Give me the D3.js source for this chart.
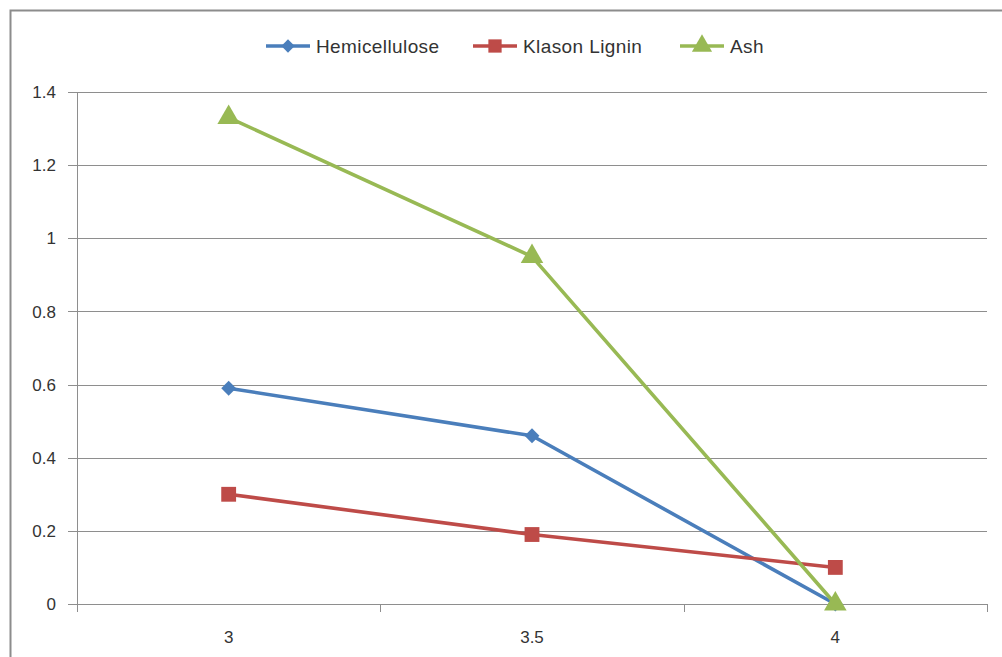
<!DOCTYPE html>
<html><head><meta charset="utf-8">
<script src="https://cdn.jsdelivr.net/npm/d3@7"></script>
<style>body{margin:0;background:#fff}svg{display:block}text{font-family:"Liberation Sans",Arial,sans-serif;fill:#333}</style>
</head><body>
<script>
const categories = ["3", "3.5", "4"];
const hemicellulose = [0.59, 0.46, 0.0];
const klasonLignin = [0.30, 0.19, 0.10];
const ash = [1.33, 0.95, 0.0];
const yTicks = [0, 0.2, 0.4, 0.6, 0.8, 1, 1.2, 1.4];
const seriesNames = ["Hemicellulose", "Klason Lignin", "Ash"];

const W = 1002, H = 657;
const svg = d3.select("body").append("svg").attr("width", W).attr("height", H);

// outer border
svg.append("path").attr("d", "M10.5,657 V10.5 H1002").attr("fill","none").attr("stroke","#8c8c8c").attr("stroke-width",2);

const x = d3.scaleBand().domain(categories).range([77, 987]);
const y = d3.scaleLinear().domain([0, 1.4]).range([604, 92]);
const cx = d => x(d) + x.bandwidth()/2;

// gridlines
svg.append("g").selectAll("line").data(yTicks).join("line")
  .attr("x1", 68).attr("x2", 987)
  .attr("y1", d => Math.round(y(d))+0.5).attr("y2", d => Math.round(y(d))+0.5)
  .attr("stroke", "#8e8e8e").attr("stroke-width", 1);
// y axis line
svg.append("line").attr("x1",77.5).attr("x2",77.5).attr("y1",92).attr("y2",604).attr("stroke","#8e8e8e");
// x ticks at band boundaries
const bounds = categories.map(c => x(c)).concat([x.range()[1]]);
svg.append("g").selectAll("line").data(bounds).join("line")
  .attr("x1", d => Math.round(d)+0.5).attr("x2", d => Math.round(d)+0.5)
  .attr("y1", 604).attr("y2", 612).attr("stroke","#8e8e8e");

// y labels
svg.append("g").selectAll("text").data(yTicks).join("text")
  .attr("x", 56).attr("y", d => y(d)).attr("dy", "0.36em")
  .attr("text-anchor", "end").attr("font-size", 17).text(d => d);
// x labels
svg.append("g").selectAll("text").data(categories).join("text")
  .attr("x", d => cx(d)).attr("y", 643)
  .attr("text-anchor", "middle").attr("font-size", 17).text(d => d);

const colors = ["#4a7ebb", "#be4b48", "#98b954"];
const data = [hemicellulose, klasonLignin, ash];
const line = d3.line().x((d,i) => cx(categories[i])).y(d => y(d));

const symbols = [d3.symbolSquare, d3.symbolSquare, d3.symbolTriangle];
const sizes = [110, 220, 220];
const rot = [45, 0, 0];

data.forEach((vals, k) => {
  svg.append("path").datum(vals).attr("d", line)
    .attr("fill", "none").attr("stroke", colors[k]).attr("stroke-width", 3.6).attr("stroke-linejoin","round");
});
data.forEach((vals, k) => {
  svg.append("g").selectAll("path").data(vals).join("path")
    .attr("transform", (d,i) => `translate(${cx(categories[i])},${y(d)}) rotate(${rot[k]})`)
    .attr("d", d3.symbol().type(symbols[k]).size(sizes[k]))
    .attr("fill", colors[k]);
});

// legend
const legX = [266, 473, 680];
const lg = svg.append("g");
seriesNames.forEach((name, k) => {
  const g = lg.append("g").attr("transform", `translate(${legX[k]},46)`);
  g.append("line").attr("x1",0).attr("x2",44).attr("y1",0).attr("y2",0).attr("stroke",colors[k]).attr("stroke-width",3.6);
  g.append("path").attr("transform",`translate(22,0) rotate(${rot[k]})`).attr("d", d3.symbol().type(symbols[k]).size(sizes[k]*0.8)).attr("fill",colors[k]);
  g.append("text").attr("x", 50).attr("dy","0.36em").attr("font-size",19).attr("letter-spacing","0.4px").text(name);
});
</script>
</body></html>
